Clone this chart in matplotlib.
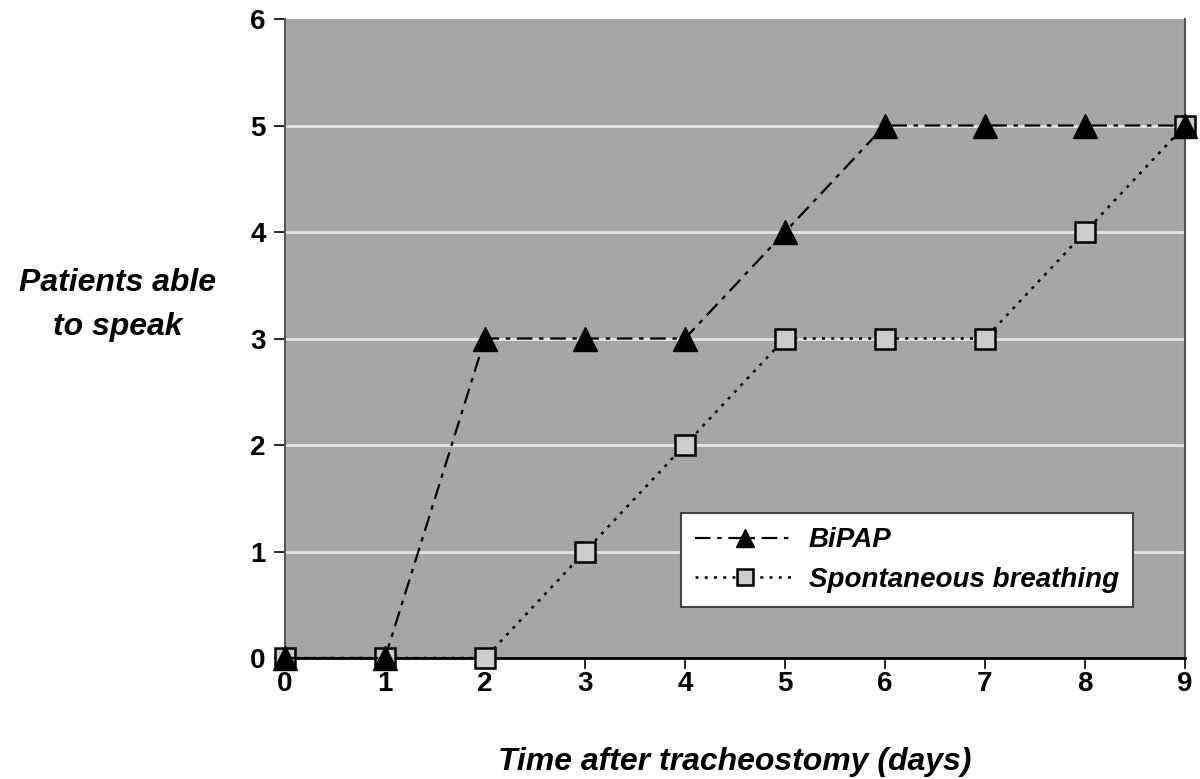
import matplotlib
matplotlib.use("Agg")
import matplotlib.pyplot as plt

days = [0, 1, 2, 3, 4, 5, 6, 7, 8, 9]
bipap = [0, 0, 3, 3, 3, 4, 5, 5, 5, 5]
spont = [0, 0, 0, 1, 2, 3, 3, 3, 4, 5]
yticks = [0, 1, 2, 3, 4, 5, 6]

plt.rcParams['font.family'] = ['Liberation Sans', 'DejaVu Sans']

fig = plt.figure(figsize=(12, 7.79), dpi=100)
ax = fig.add_axes([0.2375, 0.1553, 0.75, 0.8203])
ax.set_facecolor('#a6a6a6')

for y in yticks[1:-1]:
    ax.axhline(y, color='#e4e4e4', lw=2, zorder=1)

ax.plot(days, bipap, color='black', lw=1.6, dashes=[7, 3, 2, 3],
        marker='^', markersize=17, markerfacecolor='black', markeredgecolor='black',
        clip_on=False, zorder=4, label='BiPAP')
ax.plot(days, spont, color='black', lw=1.8, linestyle=(0, (1.2, 2.5)),
        marker='s', markersize=15, markerfacecolor='#cccccc', markeredgecolor='black',
        markeredgewidth=1.8, clip_on=False, zorder=3, label='Spontaneous breathing')

ax.set_xlim(0, 9)
ax.set_ylim(0, 6)
ax.set_xticks(days)
ax.set_yticks(yticks)
ax.tick_params(axis='both', labelsize=20, length=8, width=1.2, direction='out')
ax.tick_params(axis='x', pad=1)
ax.tick_params(axis='y', pad=6)
for lab in ax.get_xticklabels() + ax.get_yticklabels():
    lab.set_fontweight('bold')

ax.spines['top'].set_visible(False)
ax.spines['right'].set_color('#555555')
ax.spines['right'].set_linewidth(1.5)
ax.spines['left'].set_color('#555555')
ax.spines['left'].set_linewidth(1.5)
ax.spines['bottom'].set_color('black')
ax.spines['bottom'].set_linewidth(2)

ax.set_xlabel('Time after tracheostomy (days)', fontsize=23, fontweight='bold',
              fontstyle='italic', labelpad=36)
fig.text(0.098, 0.6085, 'Patients able\nto speak', fontsize=23, fontweight='bold',
         fontstyle='italic', ha='center', va='center', linespacing=1.6)

leg = ax.legend(loc='lower right', bbox_to_anchor=(0.9576, 0.058),
                prop={'weight': 'bold', 'style': 'italic', 'size': 20},
                frameon=True, fancybox=False, edgecolor='#444444', framealpha=1,
                handlelength=3.6, borderpad=0.5, labelspacing=0.5, markerscale=0.75,
                handletextpad=0.5)
leg.get_frame().set_linewidth(1.5)

fig.savefig('out.png', dpi=100, facecolor='white')
